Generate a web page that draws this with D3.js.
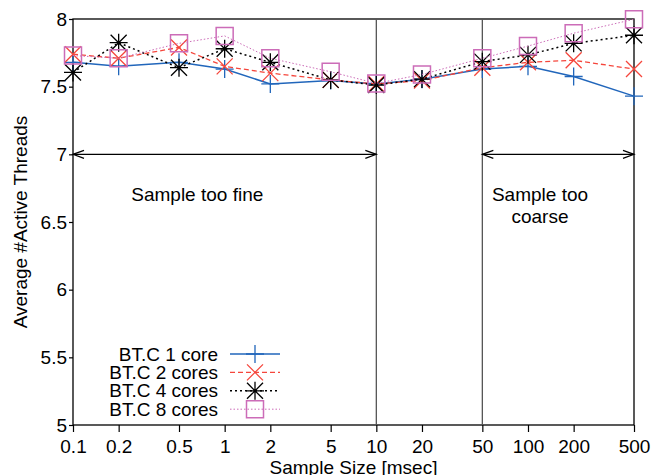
<!DOCTYPE html>
<html>
<head>
<meta charset="utf-8">
<script src="https://cdn.jsdelivr.net/npm/d3@7"></script>
<style>
  body { margin: 0; background: #fff; }
  svg { font-family: "Liberation Sans", Arial, sans-serif; }
</style>
</head>
<body>
<div id="chart"></div>
<script>
// sample sizes in msec (log axis)
const sampleSizes = [0.1, 0.2, 0.5, 1, 2, 5, 10, 20, 50, 100, 200, 500];
const tickLabels = ['0.1', '0.2', '0.5', '1', '2', '5', '10', '20', '50', '100', '200', '500'];
const yTicks = [5, 5.5, 6, 6.5, 7, 7.5, 8];

const core1 = [7.68, 7.65, 7.68, 7.63, 7.52, 7.545, 7.52, 7.555, 7.63, 7.65, 7.575, 7.43];
const core2 = [7.74, 7.71, 7.79, 7.65, 7.60, 7.55, 7.52, 7.545, 7.64, 7.68, 7.695, 7.63];
const core4 = [7.605, 7.825, 7.64, 7.78, 7.68, 7.55, 7.512, 7.556, 7.685, 7.735, 7.82, 7.88];
const core8 = [7.73, 7.71, 7.82, 7.875, 7.71, 7.61, 7.524, 7.59, 7.71, 7.80, 7.895, 7.998];

const seriesNames = ['BT.C 1 core', 'BT.C 2 cores', 'BT.C 4 cores', 'BT.C 8 cores'];

// vertical separators and region arrows
const boundaries = [10, 50];
const arrowY = 7;

const width = 662;
const height = 475;
const margin = { left: 73, right: 28, top: 19, bottom: 50 };

const series = [
  { name: seriesNames[0], values: core1, color: '#2166bb', dash: null, lw: 1.5, marker: 'plus' },
  { name: seriesNames[1], values: core2, color: '#f5463c', dash: '5,3', lw: 1.3, marker: 'cross' },
  { name: seriesNames[2], values: core4, color: '#000000', dash: '2,3', lw: 1.5, marker: 'star' },
  { name: seriesNames[3], values: core8, color: '#cc6cb8', dash: '1.5,2', lw: 1, marker: 'box' },
];

const x = d3.scaleLog().domain([0.1, 500]).range([margin.left, width - margin.right]);
const y = d3.scaleLinear().domain([5, 8]).range([height - margin.bottom, margin.top]);

const svg = d3.select('#chart').append('svg')
  .attr('width', width)
  .attr('height', height);

// markers
function markerPath(type, cx, cy) {
  const p = d3.path();
  if (type === 'plus' || type === 'star') {
    const s = 9;
    p.moveTo(cx - s, cy); p.lineTo(cx + s, cy);
    p.moveTo(cx, cy - s); p.lineTo(cx, cy + s);
  }
  if (type === 'cross' || type === 'star') {
    const s = type === 'star' ? 8 : 8;
    p.moveTo(cx - s, cy - s); p.lineTo(cx + s, cy + s);
    p.moveTo(cx - s, cy + s); p.lineTo(cx + s, cy - s);
  }
  if (type === 'box') {
    const s = 8.5;
    p.rect(cx - s, cy - s, 2 * s, 2 * s);
  }
  return p.toString();
}

// axes
const xAxis = d3.axisBottom(x)
  .tickValues(sampleSizes)
  .tickFormat((d, i) => tickLabels[i])
  .tickSize(7)
  .tickPadding(8);

const gx = svg.append('g')
  .attr('transform', `translate(0,${height - margin.bottom})`)
  .call(xAxis);

const yAxis = d3.axisLeft(y)
  .tickValues(yTicks)
  .tickFormat(d3.format('~g'))
  .tickSize(4)
  .tickPadding(2);

const gy = svg.append('g')
  .attr('transform', `translate(${margin.left},0)`)
  .call(yAxis);

[gx, gy].forEach(g => {
  g.select('.domain').remove();
  g.selectAll('.tick line').attr('stroke', '#000').attr('stroke-width', 1.2);
  g.selectAll('.tick text')
    .attr('font-size', 19)
    .attr('fill', '#000')
    .style('font-family', '"Liberation Sans", Arial, sans-serif');
});

// frame
svg.append('rect')
  .attr('x', x.range()[0])
  .attr('y', y.range()[1])
  .attr('width', x.range()[1] - x.range()[0])
  .attr('height', y.range()[0] - y.range()[1])
  .attr('fill', 'none')
  .attr('stroke', '#000')
  .attr('stroke-width', 1.3);

// vertical boundary lines
svg.append('g').selectAll('line')
  .data(boundaries)
  .join('line')
  .attr('x1', d => x(d)).attr('x2', d => x(d))
  .attr('y1', y(8)).attr('y2', y(5))
  .attr('stroke', '#555')
  .attr('stroke-width', 1.3);

// double-headed arrows
function drawArrow(from, to) {
  const x1 = x(from), x2 = x(to), yy = y(arrowY);
  const g = svg.append('g').attr('stroke', '#000').attr('stroke-width', 1.2).attr('fill', 'none');
  g.append('line').attr('x1', x1).attr('x2', x2).attr('y1', yy).attr('y2', yy);
  const hl = 11, hw = 4;
  g.append('path').attr('d', `M${x1 + hl},${yy - hw}L${x1},${yy}L${x1 + hl},${yy + hw}`);
  g.append('path').attr('d', `M${x2 - hl},${yy - hw}L${x2},${yy}L${x2 - hl},${yy + hw}`);
}
drawArrow(0.1, boundaries[0]);
drawArrow(boundaries[1], 500);

// region labels
svg.append('text')
  .attr('x', x(0.66)).attr('y', y(6.655))
  .attr('text-anchor', 'middle')
  .attr('font-size', 19)
  .text('Sample too fine');

const coarse = svg.append('text')
  .attr('x', x(120)).attr('y', y(6.655))
  .attr('text-anchor', 'middle')
  .attr('font-size', 19);
coarse.append('tspan').attr('x', x(120)).text('Sample too');
coarse.append('tspan').attr('x', x(120)).attr('dy', 22).text('coarse');

// series
const line = d3.line()
  .x((d, i) => x(sampleSizes[i]))
  .y(d => y(d));

series.forEach(s => {
  svg.append('path')
    .datum(s.values)
    .attr('d', line)
    .attr('fill', 'none')
    .attr('stroke', s.color)
    .attr('stroke-width', s.lw)
    .attr('stroke-dasharray', s.dash);

  svg.append('g').selectAll('path')
    .data(s.values)
    .join('path')
    .attr('d', (d, i) => markerPath(s.marker, x(sampleSizes[i]), y(d)))
    .attr('fill', 'none')
    .attr('stroke', s.color)
    .attr('stroke-width', s.marker === 'box' ? 1.5 : 1.3);
});

// legend
const legend = svg.append('g');
series.forEach((s, i) => {
  const ly = 354 + i * 18.4;
  legend.append('text')
    .attr('x', 218).attr('y', ly)
    .attr('dy', '0.35em')
    .attr('text-anchor', 'end')
    .attr('font-size', 19)
    .text(s.name);
  legend.append('line')
    .attr('x1', 230).attr('x2', 280)
    .attr('y1', ly).attr('y2', ly)
    .attr('stroke', s.color)
    .attr('stroke-width', s.lw)
    .attr('stroke-dasharray', s.dash);
  legend.append('path')
    .attr('d', markerPath(s.marker, 255, ly))
    .attr('fill', 'none')
    .attr('stroke', s.color)
    .attr('stroke-width', s.marker === 'box' ? 1.5 : 1.3);
});

// axis titles
svg.append('text')
  .attr('x', (x.range()[0] + x.range()[1]) / 2)
  .attr('y', 474)
  .attr('text-anchor', 'middle')
  .attr('font-size', 19)
  .text('Sample Size [msec]');

svg.append('text')
  .attr('transform', `translate(27,${(y.range()[0] + y.range()[1]) / 2}) rotate(-90)`)
  .attr('text-anchor', 'middle')
  .attr('font-size', 19)
  .text('Average #Active Threads');
</script>
</body>
</html>
